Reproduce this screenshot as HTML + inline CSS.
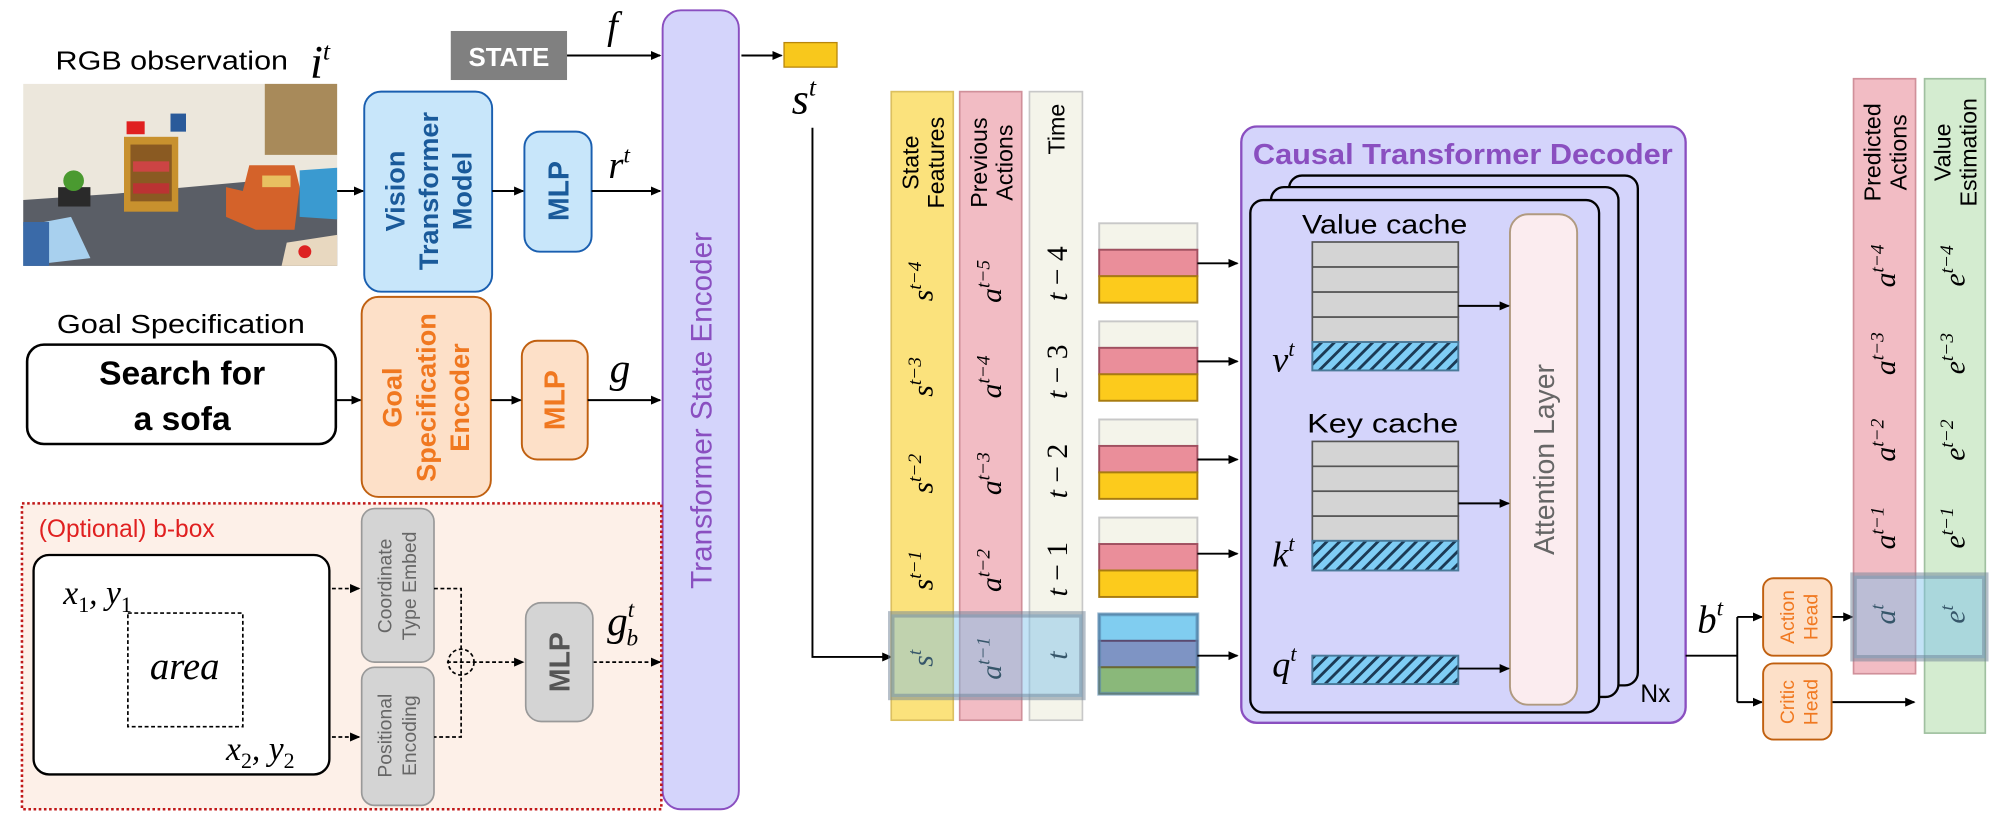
<!DOCTYPE html>
<html><head><meta charset="utf-8"><style>
html,body{margin:0;padding:0;background:#fff;}
svg{display:block;}
.s{font-family:"Liberation Sans",sans-serif;}
.m{font-family:"Liberation Serif",serif;font-style:italic;}
</style></head><body>
<svg width="2015" height="817" viewBox="0 0 1560 633" preserveAspectRatio="none" xmlns="http://www.w3.org/2000/svg">
<defs>
<marker id="ar" markerWidth="8" markerHeight="8" refX="7" refY="4" orient="auto" markerUnits="userSpaceOnUse"><path d="M0,0.5 L8,4 L0,7.5z" fill="#000"/></marker>
<pattern id="hatch" width="7" height="7" patternUnits="userSpaceOnUse" patternTransform="rotate(45)"><rect width="7" height="7" fill="#7fcdf5"/><rect width="2.2" height="7" fill="#1b3a55"/></pattern>
</defs>

<text x="43" y="54" class="s" font-size="20" textLength="180" lengthAdjust="spacingAndGlyphs">RGB observation</text>
<text x="240" y="60" class="m" font-size="36">i<tspan dy="-14" font-size="20">t</tspan></text>
<g>
<rect x="18" y="65" width="243" height="141" fill="#ece7dc"/>
<rect x="205" y="65" width="56" height="55" fill="#a88a5a"/>
<polygon points="18,155 90,150 200,140 261,150 261,206 18,206" fill="#5a5e66"/>
<rect x="96" y="106" width="42" height="58" fill="#c8912e"/>
<rect x="101" y="112" width="32" height="44" fill="#8a5a22"/>
<rect x="103" y="125" width="28" height="8" fill="#c44"/>
<rect x="103" y="142" width="28" height="8" fill="#b33"/>
<rect x="98" y="94" width="14" height="10" fill="#e02020"/>
<rect x="132" y="88" width="12" height="14" fill="#2a5a9a"/>
<path d="M188,148 L193,128 L228,128 L232,145 L228,178 L198,178 L175,168 L175,145z" fill="#d4622a"/>
<rect x="203" y="136" width="22" height="9" fill="#e8c060"/>
<path d="M232,132 L261,130 L261,170 L232,168z" fill="#3a9ad0"/>
<path d="M18,175 L55,168 L70,200 L18,206z" fill="#a8d0ee"/>
<rect x="18" y="172" width="20" height="34" fill="#3a6aa8"/>
<rect x="45" y="145" width="25" height="15" fill="#2a2a2a"/>
<circle cx="57" cy="140" r="8" fill="#4a9a30"/>
<polygon points="222,188 261,182 261,206 218,206" fill="#e8d8c0"/>
<circle cx="236" cy="195" r="5" fill="#d22"/>
</g>

<rect x="349" y="24" width="90" height="38" fill="#808080"/>
<text x="394" y="51" class="s" font-size="20" font-weight="bold" fill="#fff" text-anchor="middle">STATE</text>
<text x="470" y="30" class="m" font-size="30">f</text>
<line x1="439" y1="43" x2="511" y2="43" stroke="#000" stroke-width="1.5" marker-end="url(#ar)"/>

<rect x="513" y="8" width="59" height="619" rx="14" fill="#d4d4fb" stroke="#8a4fc0" stroke-width="1.5"/>
<text transform="translate(551,318) rotate(-90)" class="s" font-size="23" fill="#8a4fc0" text-anchor="middle">Transformer State Encoder</text>

<line x1="574" y1="43" x2="605" y2="43" stroke="#000" stroke-width="1.5" marker-end="url(#ar)"/>
<rect x="607" y="33" width="41" height="19" fill="#f8c81c" stroke="#b8860b" stroke-width="1"/>
<text x="613" y="88" class="m" font-size="34">s<tspan dy="-14" font-size="20">t</tspan></text>
<polyline points="629,99 629,509 690,509" fill="none" stroke="#000" stroke-width="1.5" marker-end="url(#ar)"/>

<rect x="282" y="71" width="99" height="155" rx="13" fill="#c8e6fa" stroke="#1a5fb0" stroke-width="1.5"/>
<g class="s" font-size="21" fill="#1a5a9a" font-weight="bold" text-anchor="middle">
<text transform="translate(313,148) rotate(-90)">Vision</text>
<text transform="translate(339,148) rotate(-90)">Transformer</text>
<text transform="translate(365,148) rotate(-90)">Model</text>
</g>
<rect x="406" y="102" width="52" height="93" rx="12" fill="#c8e6fa" stroke="#1a5fb0" stroke-width="1.5"/>
<text transform="translate(440,148) rotate(-90)" class="s" font-size="22" font-weight="bold" fill="#1a5a9a" text-anchor="middle">MLP</text>
<line x1="261" y1="148" x2="281" y2="148" stroke="#000" stroke-width="1.5" marker-end="url(#ar)"/>
<line x1="381" y1="148" x2="405" y2="148" stroke="#000" stroke-width="1.5" marker-end="url(#ar)"/>
<line x1="458" y1="148" x2="511" y2="148" stroke="#000" stroke-width="1.5" marker-end="url(#ar)"/>
<text x="471" y="138" class="m" font-size="30">r<tspan dy="-12" font-size="18">t</tspan></text>

<text x="44" y="258" class="s" font-size="20" textLength="192" lengthAdjust="spacingAndGlyphs">Goal Specification</text>
<rect x="21" y="267" width="239" height="77" rx="13" fill="#fff" stroke="#000" stroke-width="2"/>
<text x="141" y="298" class="s" font-size="26" font-weight="bold" text-anchor="middle">Search for</text>
<text x="141" y="333" class="s" font-size="26" font-weight="bold" text-anchor="middle">a sofa</text>
<rect x="280" y="230" width="100" height="155" rx="13" fill="#fde0c8" stroke="#c06010" stroke-width="1.5"/>
<g class="s" font-size="21" fill="#f07820" font-weight="bold" text-anchor="middle">
<text transform="translate(311,308) rotate(-90)">Goal</text>
<text transform="translate(337,308) rotate(-90)">Specification</text>
<text transform="translate(363,308) rotate(-90)">Encoder</text>
</g>
<rect x="404" y="264" width="51" height="92" rx="12" fill="#fde0c8" stroke="#c06010" stroke-width="1.5"/>
<text transform="translate(437,310) rotate(-90)" class="s" font-size="22" font-weight="bold" fill="#f07820" text-anchor="middle">MLP</text>
<line x1="260" y1="310" x2="279" y2="310" stroke="#000" stroke-width="1.5" marker-end="url(#ar)"/>
<line x1="380" y1="310" x2="403" y2="310" stroke="#000" stroke-width="1.5" marker-end="url(#ar)"/>
<line x1="455" y1="310" x2="511" y2="310" stroke="#000" stroke-width="1.5" marker-end="url(#ar)"/>
<text x="472" y="296" class="m" font-size="32">g</text>

<rect x="17" y="390" width="495" height="237" fill="#fdf0e8" stroke="#c01818" stroke-width="2" stroke-dasharray="2,2"/>
<text x="30" y="416" class="s" font-size="19" fill="#e02020">(Optional) b-box</text>
<rect x="26" y="430" width="229" height="170" rx="12" fill="#fff" stroke="#000" stroke-width="1.8"/>
<rect x="99" y="475" width="89" height="88" fill="none" stroke="#000" stroke-width="1.3" stroke-dasharray="3,2"/>
<text x="143" y="526" class="m" font-size="30" text-anchor="middle">area</text>
<text x="49" y="468" class="m" font-size="26">x<tspan dy="6" font-size="17" font-style="normal">1</tspan><tspan dy="-6">, y</tspan><tspan dy="6" font-size="17" font-style="normal">1</tspan></text>
<text x="175" y="589" class="m" font-size="26">x<tspan dy="6" font-size="17" font-style="normal">2</tspan><tspan dy="-6">, y</tspan><tspan dy="6" font-size="17" font-style="normal">2</tspan></text>
<rect x="280" y="394" width="56" height="119" rx="10" fill="#d4d4d4" stroke="#999" stroke-width="1.3"/>
<rect x="280" y="517" width="56" height="107" rx="10" fill="#d4d4d4" stroke="#999" stroke-width="1.3"/>
<g class="s" font-size="15" fill="#666" text-anchor="middle">
<text transform="translate(303,454) rotate(-90)">Coordinate</text>
<text transform="translate(322,454) rotate(-90)">Type Embed</text>
<text transform="translate(303,570) rotate(-90)">Positional</text>
<text transform="translate(322,570) rotate(-90)">Encoding</text>
</g>
<g stroke="#000" stroke-width="1.3" stroke-dasharray="3,2" fill="none">
<line x1="257" y1="456" x2="278" y2="456" marker-end="url(#ar)"/>
<line x1="257" y1="571" x2="278" y2="571" marker-end="url(#ar)"/>
<polyline points="336,456 357,456 357,571 336,571"/>
<circle cx="357" cy="513" r="10"/>
<line x1="346" y1="513" x2="405" y2="513" marker-end="url(#ar)"/>
<line x1="459" y1="513" x2="511" y2="513" marker-end="url(#ar)"/>
</g>
<rect x="407" y="467" width="52" height="92" rx="12" fill="#d4d4d4" stroke="#999" stroke-width="1.3"/>
<text transform="translate(441,513) rotate(-90)" class="s" font-size="22" font-weight="bold" fill="#555" text-anchor="middle">MLP</text>
<text x="470" y="492" class="m" font-size="32">g<tspan dy="-14" font-size="18">t</tspan><tspan dx="-6" dy="22" font-size="18">b</tspan></text>

<rect x="690" y="71" width="48" height="487" fill="#fbe27c" stroke="#dcc060" stroke-width="1.3"/>
<rect x="743" y="71" width="48" height="487" fill="#f2bcc4" stroke="#d0909a" stroke-width="1.3"/>
<rect x="797" y="71" width="41" height="487" fill="#f4f4ea" stroke="#c8c8c8" stroke-width="1.3"/>
<g class="s" font-size="18" text-anchor="middle">
<text transform="translate(711,126) rotate(-90)">State</text>
<text transform="translate(731,126) rotate(-90)">Features</text>
<text transform="translate(764,126) rotate(-90)">Previous</text>
<text transform="translate(784,126) rotate(-90)">Actions</text>
<text transform="translate(824,100) rotate(-90)">Time</text>
</g>
<g class="m" font-size="23" text-anchor="middle">
<text transform="translate(722,218) rotate(-90)">s<tspan dy="-9" font-size="15">t−4</tspan></text>
<text transform="translate(722,292) rotate(-90)">s<tspan dy="-9" font-size="15">t−3</tspan></text>
<text transform="translate(722,367) rotate(-90)">s<tspan dy="-9" font-size="15">t−2</tspan></text>
<text transform="translate(722,442) rotate(-90)">s<tspan dy="-9" font-size="15">t−1</tspan></text>
<text transform="translate(722,510) rotate(-90)">s<tspan dy="-9" font-size="15">t</tspan></text>
<text transform="translate(775,218) rotate(-90)">a<tspan dy="-9" font-size="15">t−5</tspan></text>
<text transform="translate(775,292) rotate(-90)">a<tspan dy="-9" font-size="15">t−4</tspan></text>
<text transform="translate(775,367) rotate(-90)">a<tspan dy="-9" font-size="15">t−3</tspan></text>
<text transform="translate(775,442) rotate(-90)">a<tspan dy="-9" font-size="15">t−2</tspan></text>
<text transform="translate(775,510) rotate(-90)">a<tspan dy="-9" font-size="15">t−1</tspan></text>
<text transform="translate(826,212) rotate(-90)">t<tspan font-style="normal"> − 4</tspan></text>
<text transform="translate(826,288) rotate(-90)">t<tspan font-style="normal"> − 3</tspan></text>
<text transform="translate(826,365) rotate(-90)">t<tspan font-style="normal"> − 2</tspan></text>
<text transform="translate(826,441) rotate(-90)">t<tspan font-style="normal"> − 1</tspan></text>
<text transform="translate(826,508) rotate(-90)">t</text>
</g>
<rect x="690" y="476" width="148" height="64" fill="rgba(120,190,235,0.45)" stroke="rgba(110,130,150,0.5)" stroke-width="5"/>

<g stroke-width="1.5">
<g><rect x="851" y="173" width="76" height="20.5" fill="#f4f4ea" stroke="#c8c8c8"/><rect x="851" y="193.5" width="76" height="20.5" fill="#ea8e9a" stroke="#a05060"/><rect x="851" y="214" width="76" height="20.5" fill="#fccb1c" stroke="#a87c10"/></g>
<g transform="translate(0,76)"><rect x="851" y="173" width="76" height="20.5" fill="#f4f4ea" stroke="#c8c8c8"/><rect x="851" y="193.5" width="76" height="20.5" fill="#ea8e9a" stroke="#a05060"/><rect x="851" y="214" width="76" height="20.5" fill="#fccb1c" stroke="#a87c10"/></g>
<g transform="translate(0,152)"><rect x="851" y="173" width="76" height="20.5" fill="#f4f4ea" stroke="#c8c8c8"/><rect x="851" y="193.5" width="76" height="20.5" fill="#ea8e9a" stroke="#a05060"/><rect x="851" y="214" width="76" height="20.5" fill="#fccb1c" stroke="#a87c10"/></g>
<g transform="translate(0,228)"><rect x="851" y="173" width="76" height="20.5" fill="#f4f4ea" stroke="#c8c8c8"/><rect x="851" y="193.5" width="76" height="20.5" fill="#ea8e9a" stroke="#a05060"/><rect x="851" y="214" width="76" height="20.5" fill="#fccb1c" stroke="#a87c10"/></g>
<rect x="851" y="476" width="76" height="20.5" fill="#80cdf0" stroke="#5a8aa8"/>
<rect x="851" y="496.5" width="76" height="20.5" fill="#7e94c4" stroke="#5a4a70"/>
<rect x="851" y="517" width="76" height="20.5" fill="#8ab87a" stroke="#6a6a30"/>
<rect x="851" y="476" width="76" height="61.5" fill="none" stroke="rgba(90,140,180,0.6)" stroke-width="3"/>
</g>
<g stroke="#000" stroke-width="1.5">
<line x1="927" y1="204" x2="958" y2="204" marker-end="url(#ar)"/>
<line x1="927" y1="280" x2="958" y2="280" marker-end="url(#ar)"/>
<line x1="927" y1="356" x2="958" y2="356" marker-end="url(#ar)"/>
<line x1="927" y1="429" x2="958" y2="429" marker-end="url(#ar)"/>
<line x1="927" y1="508" x2="958" y2="508" marker-end="url(#ar)"/>
</g>

<rect x="961" y="98" width="344" height="462" rx="12" fill="#d4d4fb" stroke="#8a4fc0" stroke-width="1.8"/>
<text x="970" y="127" class="s" font-size="22" font-weight="bold" fill="#8a4fc0" textLength="325" lengthAdjust="spacingAndGlyphs">Causal Transformer Decoder</text>
<rect x="998" y="136" width="270" height="395" rx="10" fill="#d4d4fb" stroke="#000" stroke-width="1.8"/>
<rect x="984" y="145" width="269" height="395" rx="10" fill="#d4d4fb" stroke="#000" stroke-width="1.8"/>
<rect x="968" y="155" width="270" height="397" rx="10" fill="#d4d4fb" stroke="#000" stroke-width="1.8"/>
<text x="1270" y="544" class="s" font-size="19">Nx</text>
<text x="1008" y="181" class="s" font-size="21" textLength="128" lengthAdjust="spacingAndGlyphs">Value cache</text>
<g fill="#d4d4d4" stroke="#555" stroke-width="1.3">
<rect x="1016" y="187.5" width="113" height="19.4"/><rect x="1016" y="206.9" width="113" height="19.4"/><rect x="1016" y="226.3" width="113" height="19.4"/><rect x="1016" y="245.7" width="113" height="19.4"/>
<rect x="1016" y="342" width="113" height="19.3"/><rect x="1016" y="361.3" width="113" height="19.3"/><rect x="1016" y="380.6" width="113" height="19.3"/><rect x="1016" y="399.9" width="113" height="19.3"/>
</g>
<g fill="url(#hatch)" stroke="#4a7a9a" stroke-width="1.5">
<rect x="1016" y="265" width="113" height="22"/>
<rect x="1016" y="419" width="113" height="23"/>
<rect x="1016" y="508" width="113" height="22"/>
</g>
<text x="1012" y="335" class="s" font-size="21" textLength="117" lengthAdjust="spacingAndGlyphs">Key cache</text>
<text x="985" y="288" class="m" font-size="28">v<tspan dy="-12" font-size="17">t</tspan></text>
<text x="985" y="439" class="m" font-size="28">k<tspan dy="-12" font-size="17">t</tspan></text>
<text x="985" y="524" class="m" font-size="28">q<tspan dy="-12" font-size="17">t</tspan></text>
<rect x="1169" y="166" width="52" height="380" rx="14" fill="#fbecef" stroke="#b09a80" stroke-width="1.5"/>
<text transform="translate(1203,356) rotate(-90)" class="s" font-size="22" fill="#666" text-anchor="middle">Attention Layer</text>
<g stroke="#000" stroke-width="1.5">
<line x1="1129" y1="237" x2="1168" y2="237" marker-end="url(#ar)"/>
<line x1="1129" y1="390" x2="1168" y2="390" marker-end="url(#ar)"/>
<line x1="1129" y1="518" x2="1168" y2="518" marker-end="url(#ar)"/>
</g>

<text x="1314" y="490" class="m" font-size="30">b<tspan dy="-13" font-size="18">t</tspan></text>
<g stroke="#000" stroke-width="1.5" fill="none">
<polyline points="1305,508 1345,508"/>
<polyline points="1345,478 1345,544"/>
<line x1="1345" y1="478" x2="1364" y2="478" marker-end="url(#ar)"/>
<line x1="1345" y1="544" x2="1364" y2="544" marker-end="url(#ar)"/>
<line x1="1418" y1="478" x2="1434" y2="478" marker-end="url(#ar)"/>
<line x1="1418" y1="544" x2="1482" y2="544" marker-end="url(#ar)"/>
</g>
<rect x="1365" y="448" width="53" height="60" rx="8" fill="#fde0c8" stroke="#c06010" stroke-width="1.5"/>
<rect x="1365" y="514" width="53" height="59" rx="8" fill="#fde0c8" stroke="#c06010" stroke-width="1.5"/>
<g class="s" font-size="15" fill="#f07820" text-anchor="middle">
<text transform="translate(1389,478) rotate(-90)">Action</text>
<text transform="translate(1407,478) rotate(-90)">Head</text>
<text transform="translate(1389,544) rotate(-90)">Critic</text>
<text transform="translate(1407,544) rotate(-90)">Head</text>
</g>
<rect x="1435" y="61" width="48" height="461" fill="#f2bcc4" stroke="#d0909a" stroke-width="1.3"/>
<rect x="1490" y="61" width="47" height="507" fill="#d4ecd0" stroke="#a0c0a0" stroke-width="1.3"/>
<g class="s" font-size="18" text-anchor="middle">
<text transform="translate(1456,118) rotate(-90)">Predicted</text>
<text transform="translate(1476,118) rotate(-90)">Actions</text>
<text transform="translate(1510,118) rotate(-90)">Value</text>
<text transform="translate(1530,118) rotate(-90)">Estimation</text>
</g>
<g class="m" font-size="23" text-anchor="middle">
<text transform="translate(1467,206) rotate(-90)">a<tspan dy="-9" font-size="15">t−4</tspan></text>
<text transform="translate(1467,274) rotate(-90)">a<tspan dy="-9" font-size="15">t−3</tspan></text>
<text transform="translate(1467,341) rotate(-90)">a<tspan dy="-9" font-size="15">t−2</tspan></text>
<text transform="translate(1467,409) rotate(-90)">a<tspan dy="-9" font-size="15">t−1</tspan></text>
<text transform="translate(1467,476) rotate(-90)">a<tspan dy="-9" font-size="15">t</tspan></text>
<text transform="translate(1521,206) rotate(-90)">e<tspan dy="-9" font-size="15">t−4</tspan></text>
<text transform="translate(1521,274) rotate(-90)">e<tspan dy="-9" font-size="15">t−3</tspan></text>
<text transform="translate(1521,341) rotate(-90)">e<tspan dy="-9" font-size="15">t−2</tspan></text>
<text transform="translate(1521,409) rotate(-90)">e<tspan dy="-9" font-size="15">t−1</tspan></text>
<text transform="translate(1521,476) rotate(-90)">e<tspan dy="-9" font-size="15">t</tspan></text>
</g>
<rect x="1435" y="446" width="102" height="64" fill="rgba(120,190,235,0.45)" stroke="rgba(110,130,150,0.5)" stroke-width="5"/>
</svg>
</body></html>
